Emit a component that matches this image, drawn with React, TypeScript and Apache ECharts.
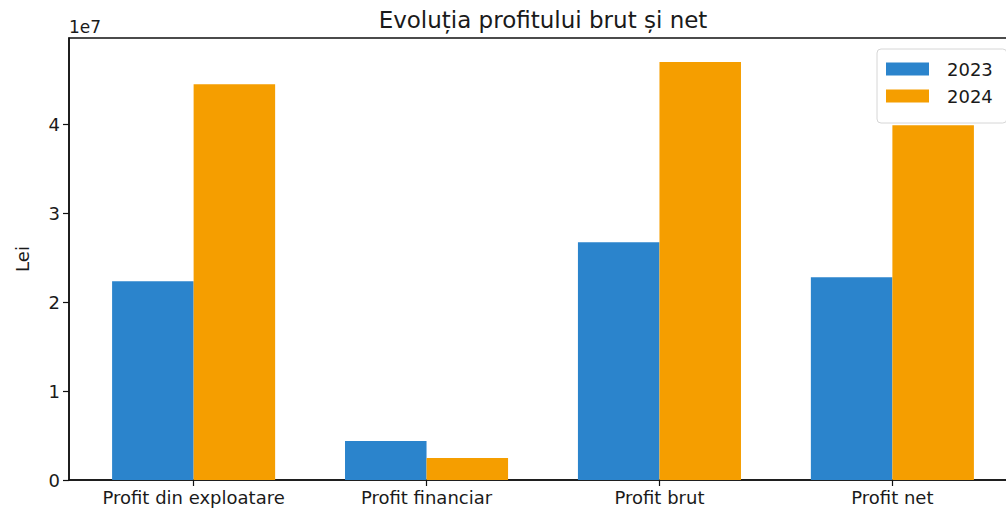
import React, { useEffect, useRef } from "react";
import * as echarts from "echarts";

const categories = ["Profit din exploatare", "Profit financiar", "Profit brut", "Profit net"];
const seriesNames = ["2023", "2024"];
const values2023 = [2.236e7, 0.438e7, 2.674e7, 2.28e7];
const values2024 = [4.45e7, 0.247e7, 4.70e7, 3.99e7];
const yTicks = [0, 1e7, 2e7, 3e7, 4e7];
const colors = ["#2b84cc", "#f59e00"];
const titleText = "Evoluția profitului brut și net";
const yLabel = "Lei";
const offsetText = "1e7";

const BAR_W = 0.35;
const FONT = "DejaVu Sans, Verdana, sans-serif";

export default function App() {
  const ref = useRef<HTMLDivElement>(null);
  useEffect(() => {
    if (!ref.current) return;
    const chart = echarts.init(ref.current, undefined, { renderer: "svg" });
    const mk = (vals: number[], off: number) => vals.map((v, i) => [i + off, v]);
    const renderItem = (params: any, api: any) => {
      const x = api.value(0);
      const y = api.value(1);
      const p0 = api.coord([x - BAR_W / 2, y]);
      const p1 = api.coord([x + BAR_W / 2, 0]);
      return {
        type: "rect",
        shape: { x: p0[0], y: p0[1], width: p1[0] - p0[0], height: p1[1] - p0[1] },
        style: { fill: api.visual("color") },
      };
    };
    const tickVals = categories.map((_, i) => i);
    chart.setOption({
      animation: false,
      backgroundColor: "#fff",
      grid: {
        left: 69,
        top: 38,
        width: 948,
        bottom: 31,
        outerBoundsMode: "none",
        containLabel: false,
        show: true,
        borderColor: "#111",
        borderWidth: 1.5,
        backgroundColor: "transparent",
      },
      xAxis: {
        type: "value",
        min: -0.535,
        max: 3.535,
        splitLine: { show: false },
        axisLine: { show: true, onZero: false, lineStyle: { color: "#111", width: 1.5 } },
        axisTick: { show: true, customValues: tickVals, length: 6, lineStyle: { color: "#111", width: 1.2 } },
        axisLabel: {
          customValues: tickVals,
          formatter: (v: number) => categories[Math.round(v)] ?? "",
          fontFamily: FONT,
          fontSize: 18,
          color: "#1a1a1a",
          margin: 8,
        },
      },
      yAxis: {
        type: "value",
        min: 0,
        max: 4.97e7,
        splitLine: { show: false },
        axisLine: { show: true, onZero: false, lineStyle: { color: "#111", width: 1.5 } },
        axisTick: { show: true, customValues: yTicks, length: 6, lineStyle: { color: "#111", width: 1.2 } },
        axisLabel: {
          customValues: yTicks,
          formatter: (v: number) => String(Math.round(v / 1e7)),
          fontFamily: FONT,
          fontSize: 18,
          color: "#1a1a1a",
          margin: 9,
        },
      },
      legend: {
        orient: "vertical",
        left: 877,
        top: 49,
        data: seriesNames,
        icon: "rect",
        itemWidth: 43,
        itemHeight: 13,
        itemGap: 9,
        padding: [11, 14, 18, 9],
        backgroundColor: "rgba(255,255,255,0.85)",
        borderColor: "#d6d6d6",
        borderWidth: 1,
        borderRadius: 4,
        textStyle: { fontFamily: FONT, fontSize: 18, color: "#1a1a1a", padding: [0, 0, 0, 13] },
      },
      graphic: [
        {
          type: "text",
          x: 543,
          y: 20,
          style: { text: titleText, font: `23px ${FONT}`, fill: "#1a1a1a", align: "center", verticalAlign: "middle" },
        },
        {
          type: "text",
          x: 69,
          y: 27,
          style: { text: offsetText, font: `17px ${FONT}`, fill: "#1a1a1a", align: "left", verticalAlign: "middle" },
        },
        {
          type: "text",
          x: 22,
          y: 259,
          rotation: Math.PI / 2,
          style: { text: yLabel, font: `18px ${FONT}`, fill: "#1a1a1a", align: "center", verticalAlign: "middle" },
        },
      ],
      series: [
        {
          name: seriesNames[0],
          type: "custom",
          renderItem,
          itemStyle: { color: colors[0] },
          encode: { x: 0, y: 1 },
          data: mk(values2023, -BAR_W / 2),
        },
        {
          name: seriesNames[1],
          type: "custom",
          renderItem,
          itemStyle: { color: colors[1] },
          encode: { x: 0, y: 1 },
          data: mk(values2024, BAR_W / 2),
        },
      ],
    });
    return () => chart.dispose();
  }, []);
  return <div ref={ref} style={{ position: "fixed", left: 0, top: 0, width: 1006, height: 511 }} />;
}
